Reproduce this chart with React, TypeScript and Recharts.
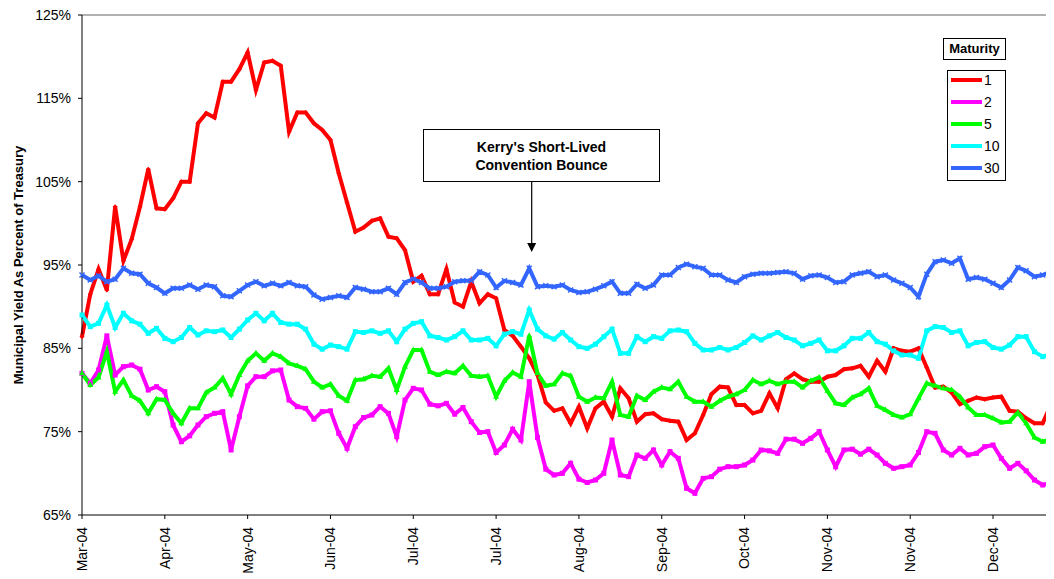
import React from "react";
import { LineChart, Line, XAxis, YAxis, ReferenceLine } from "recharts";

// Month labels, one every 10 observations
const monthTicks = [
  "Mar-04", "Apr-04", "May-04", "Jun-04", "Jul-04", "Jul-04",
  "Aug-04", "Sep-04", "Oct-04", "Nov-04", "Nov-04", "Dec-04",
];

const yTicks = [65, 75, 85, 95, 105, 115, 125];

// Muni yield as % of Treasury, by maturity
const oneYear = [
  86.4, 91.5, 94.5, 92, 102, 95.5, 98.1, 102, 106.5, 101.8,
  101.7, 103, 105, 105, 112, 113.2, 112.7, 117, 117, 118.5,
  120.5, 116, 119.3, 119.5, 118.9, 111, 113.3, 113.3, 112, 111.2,
  110, 106, 102.5, 99, 99.5, 100.3, 100.6, 98.4, 98.2, 96.8,
  93, 93.7, 91.5, 91.5, 94.5, 90.5, 90, 93, 90.4, 91.5,
  91, 87.2, 86.5, 85.2, 83.8, 81.8, 78.5, 77.5, 77.8, 76,
  78, 75.4, 77.8, 78.6, 76.8, 80.2, 79, 76.2, 77.1, 77.2,
  76.5, 76.3, 76.2, 74, 74.8, 77, 79.5, 80.4, 80.3, 78.2,
  78.2, 77.2, 77.5, 79.6, 77.8, 81.3, 82, 81.3, 81, 81,
  81.6, 81.8, 82.5, 82.6, 82.9, 81.6, 83.5, 82.2, 85, 84.7,
  84.6, 85, 82.7, 80.3, 80.4, 79.7, 78.3, 78.7, 79.1, 78.9,
  79.1, 79.2, 77.5, 77.4, 76.6, 76, 76, 78.3,
];

const twoYear = [
  82, 80.8, 82.4, 86.5, 81.8, 82.8, 83, 82.5, 80, 80.4,
  79.8, 75.8, 73.8, 74.5, 75.8, 76.8, 77.2, 77.4, 72.8, 76.8,
  80.5, 81.6, 81.6, 82.3, 82.4, 78.8, 78, 77.8, 76.5, 77.4,
  77.5, 74.8, 73, 75.6, 76.7, 77, 78, 77.2, 74.4, 78.8,
  80.2, 80, 78.3, 78.1, 78.4, 77.1, 77.9, 76.2, 74.9, 75,
  72.5, 73.4, 75.3, 74, 81, 74.3, 70.5, 69.8, 70, 71.2,
  69.3, 68.9, 69.2, 70, 74, 69.8, 69.6, 72.2, 71.8, 72.8,
  71, 72.6, 71.8, 68.2, 67.6, 69.4, 69.6, 70.5, 70.8, 70.8,
  71, 71.6, 72.8, 72.7, 72.4, 74.1, 74.1, 73.6, 74.2, 75,
  72.8, 70.8, 72.8, 72.9, 72.3, 72.9, 72.2, 71.2, 70.6, 70.8,
  71, 72.5, 75, 74.8, 72.8, 72.2, 73, 72.2, 72.4, 73.2,
  73.4, 71.8, 70.6, 71.2, 70.3, 69.2, 68.6, 68.9,
];

const fiveYear = [
  82, 80.6, 81.5, 84.6, 79.8, 81.2, 79.3, 78.7, 77.2, 78.9,
  78.8, 77.2, 76, 77.8, 77.8, 79.7, 80.3, 81.4, 79.5, 81.8,
  83.5, 84.4, 83.5, 84.4, 84, 83.2, 82.9, 82.5, 81, 80.3,
  80.7, 79.3, 78.7, 81.2, 81.3, 81.7, 81.6, 82.6, 80, 82.8,
  84.8, 84.8, 82.2, 81.8, 82.2, 82, 82.9, 81.7, 81.6, 81.7,
  79.2, 81.1, 82.1, 81.6, 86.5, 82, 80.5, 80.7, 82, 81.7,
  79.2, 78.6, 79.1, 79, 81, 77, 76.8, 79.3, 78.8, 79.8,
  80.3, 80.1, 81, 79.2, 78.6, 78.6, 78, 78.7, 79.2, 79.5,
  80, 81.2, 80.7, 81.1, 80.7, 81, 81, 80.3, 81.1, 81.5,
  79.9, 78.4, 78.2, 79.1, 79.5, 80.2, 78.1, 77.6, 77, 76.7,
  77.1, 79, 80.8, 80.5, 80.2, 80, 79.2, 77.9, 77, 77,
  76.6, 76.1, 76.2, 77.3, 76, 74.3, 73.8, 74.1,
];

const tenYear = [
  89, 87.6, 88, 90.2, 87.5, 89.2, 88.3, 87.9, 86.8, 87.4,
  86.2, 85.8, 86.3, 87.5, 86.6, 87.1, 87, 87.2, 86.3, 87.3,
  88.4, 89.2, 88.3, 89.2, 88.1, 87.9, 87.9, 87.3, 85.5, 84.9,
  85.4, 85.2, 84.9, 87, 86.9, 87.1, 86.8, 87.1, 85.8, 87.3,
  88, 88.2, 86.5, 86.3, 86, 86.4, 87.1, 86, 86, 86.2,
  85.3, 86.7, 87, 86.7, 89.6, 87.3, 86.5, 86.1, 86.9, 86,
  85.2, 85, 85.5, 86.4, 87.3, 84.4, 84.4, 86.4, 85.8, 86.4,
  86.2, 87.1, 87.2, 87, 85.6, 84.8, 84.8, 85.1, 84.8, 85.1,
  85.7, 86.5, 86, 86.5, 86.9, 86.3, 86, 85.3, 85.6, 86,
  84.7, 84.7, 85.3, 86.2, 86.2, 86.9, 85.8, 85.5, 84.7, 84.2,
  84.2, 83.8, 87.1, 87.6, 87.5, 86.9, 87.1, 85.3, 85.7, 85.8,
  85.1, 84.9, 85.4, 86.4, 86.4, 84.6, 84, 84.3,
];

const thirtyYear = [
  93.8, 93.2, 93.7, 93, 93.3, 94.6, 94, 93.9, 92.8, 92.3,
  91.6, 92.2, 92.2, 92.6, 92.1, 92.6, 92.4, 91.3, 91.2, 91.9,
  92.6, 93, 92.5, 92.8, 92.5, 92.9, 92.5, 92.4, 91.4, 90.9,
  91.1, 91.3, 91.1, 92.3, 92.1, 91.8, 91.8, 92.2, 91.5, 92.9,
  93.3, 92.9, 92.2, 92.2, 92.4, 93, 93.1, 93.1, 94.2, 93.8,
  92.3, 93.1, 92.9, 92.6, 94.6, 92.4, 92.5, 92.4, 92.6, 92,
  91.7, 91.8, 92.1, 92.5, 93, 91.6, 91.6, 92.7, 92.2, 92.6,
  93.8, 93.8, 94.7, 95.1, 94.8, 94.6, 93.8, 93.8, 93.2, 92.9,
  93.6, 93.9, 94, 94, 94.1, 94.2, 94, 93.3, 93.7, 93.8,
  93.5, 92.9, 93, 93.8, 94, 94.2, 93.6, 93.8, 93.2, 92.8,
  92.3, 91.2, 93.9, 95.4, 95.6, 95.2, 95.8, 93.3, 93.5, 93.3,
  92.8, 92.3, 93.2, 94.7, 94.3, 93.6, 93.8, 94.2,
];

const data = oneYear.map((_, i) => ({
  i,
  m1: oneYear[i],
  m2: twoYear[i],
  m5: fiveYear[i],
  m10: tenYear[i],
  m30: thirtyYear[i],
}));

type DotProps = { cx?: number; cy?: number; index?: number };

const squareDot = (color: string) => (p: DotProps) => (
  <rect key={p.index} x={(p.cx ?? 0) - 2.5} y={(p.cy ?? 0) - 2.5} width={5} height={5} fill={color} />
);

const triangleDot = (color: string) => (p: DotProps) => {
  const x = p.cx ?? 0;
  const y = p.cy ?? 0;
  return <polygon key={p.index} points={`${x},${y - 3.5} ${x + 3},${y + 2} ${x - 3},${y + 2}`} fill={color} />;
};

const diamondDot = (color: string) => (p: DotProps) => {
  const x = p.cx ?? 0;
  const y = p.cy ?? 0;
  return <polygon key={p.index} points={`${x},${y - 2.5} ${x + 2.5},${y} ${x},${y + 2.5} ${x - 2.5},${y}`} fill={color} />;
};

const crossDot = (color: string) => (p: DotProps) => {
  const x = p.cx ?? 0;
  const y = p.cy ?? 0;
  return (
    <path key={p.index} d={`M${x - 2.5},${y - 2.5}L${x + 2.5},${y + 2.5}M${x + 2.5},${y - 2.5}L${x - 2.5},${y + 2.5}`} stroke={color} strokeWidth={1.5} />
  );
};

const series = [
  { key: "m1", name: "1", color: "#FF0000", dot: diamondDot },
  { key: "m2", name: "2", color: "#FF00FF", dot: squareDot },
  { key: "m5", name: "5", color: "#00FF00", dot: triangleDot },
  { key: "m10", name: "10", color: "#00FFFF", dot: squareDot },
  { key: "m30", name: "30", color: "#3366FF", dot: crossDot },
];

const font = "Arial, 'Liberation Sans', sans-serif";

const XTick = (props: any) => {
  const { x, y, payload } = props;
  return (
    <text
      x={x}
      y={y}
      transform={`rotate(-90, ${x}, ${y})`}
      textAnchor="end"
      dy="0.35em"
      fontSize={14}
      fontFamily={font}
      fill="#000"
    >
      {monthTicks[payload.value / 10]}
    </text>
  );
};

const App: React.FC = () => {
  return (
    <div style={{ position: "relative", width: 1046, height: 571, fontFamily: font }}>
      <LineChart
        width={1046}
        height={571}
        data={data}
        margin={{ top: 7, right: 3, left: 0, bottom: 0 }}
      >
        <XAxis
          dataKey="i"
          type="number"
          domain={[0, 117]}
          ticks={monthTicks.map((_, k) => k * 10)}
          tick={<XTick />}
          tickSize={4}
          tickMargin={8}
          height={64}
          stroke="#000"
          interval={0}
        />
        <YAxis
          domain={[65, 125]}
          ticks={yTicks}
          tickFormatter={(v: number) => `${v}%`}
          width={74}
          tickSize={4}
          tickMargin={7}
          stroke="#000"
          tick={{ fill: "#000", fontSize: 14, fontFamily: font }}
          interval={0}
        />
        <ReferenceLine y={125} stroke="#999" strokeWidth={1.5} />
        {series.map((s) => (
          <Line
            key={s.key}
            dataKey={s.key}
            name={s.name}
            type="linear"
            stroke={s.color}
            strokeWidth={4}
            dot={s.dot(s.color)}
            activeDot={false}
            isAnimationActive={false}
          />
        ))}
      </LineChart>

      {/* legend */}
      <div
        style={{
          position: "absolute",
          left: 935,
          top: 30,
          width: 63,
          height: 22,
          border: "1px solid #000",
          boxSizing: "border-box",
          fontWeight: "bold",
          fontSize: 13,
          textAlign: "center",
          lineHeight: "20px",
        }}
      >
        Maturity
      </div>
      <div
        style={{
          position: "absolute",
          left: 939,
          top: 62,
          width: 59,
          height: 111,
          border: "1px solid #000",
          boxSizing: "border-box",
          padding: "0 0 0 3px",
          fontSize: 14,
          background: "#fff",
        }}
      >
        {series.map((s) => (
          <div key={s.key} style={{ display: "flex", alignItems: "center", height: 22, marginTop: s.key === "m1" ? -2 : 0 }}>
            <span style={{ display: "inline-block", width: 31, height: 4, background: s.color, marginRight: 2 }} />
            <span>{s.name}</span>
          </div>
        ))}
      </div>

      {/* annotation box */}
      <div
        style={{
          position: "absolute",
          left: 415,
          top: 121,
          width: 237,
          height: 53,
          border: "1px solid #000",
          boxSizing: "border-box",
          background: "#fff",
          fontWeight: "bold",
          fontSize: 14,
          textAlign: "center",
          lineHeight: "18px",
          paddingTop: 8,
        }}
      >
        Kerry's Short-Lived
        <br />
        Convention Bounce
      </div>
      <svg style={{ position: "absolute", left: 0, top: 0, pointerEvents: "none" }} width={1046} height={571}>
        {/* y-axis title */}
        <text
          transform="rotate(-90)"
          x={-257}
          y={15}
          textAnchor="middle"
          fontWeight="bold"
          fontSize={13}
          fontFamily={font}
          fill="#000"
        >
          Municipal Yield As Percent of Treasury
        </text>
        {/* arrow to the bounce */}
        <line x1={523.7} y1={174} x2={523.7} y2={237} stroke="#000" strokeWidth={1.2} />
        <polygon points="519.2,235 528.2,235 523.7,244" fill="#000" />
      </svg>
    </div>
  );
};

export default App;
